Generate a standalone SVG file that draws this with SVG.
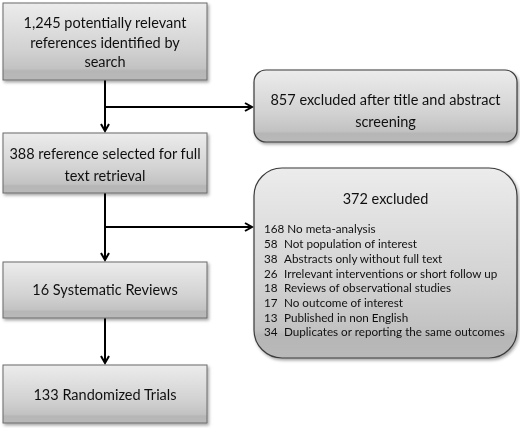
<svg xmlns="http://www.w3.org/2000/svg" width="520" height="428" viewBox="0 0 520 428">
<style>
.t{font-family:Lato,"Liberation Sans",sans-serif;font-size:14.5px;fill:#111;text-anchor:middle}
.l{font-family:Lato,"Liberation Sans",sans-serif;font-size:11.7px;fill:#111}
.h{font-family:Lato,"Liberation Sans",sans-serif;font-size:14.5px;fill:#111;text-anchor:middle}
.box{fill:url(#g);stroke:#6a6a6a;stroke-width:1}
.rbox{fill:url(#g);stroke:#3a3a3a;stroke-width:1.2}
.c{stroke:#000;stroke-width:2;fill:none}
</style>
<defs>
<linearGradient id="g" x1="0" y1="0" x2="0" y2="1">
<stop offset="0" stop-color="#ececec"/>
<stop offset="0.6" stop-color="#d2d2d2"/>
<stop offset="0.85" stop-color="#c2c2c2"/>
<stop offset="0.88" stop-color="#b6b6b6"/>
<stop offset="1" stop-color="#b9b9b9"/>
</linearGradient>
<filter id="sh" x="-5%" y="-5%" width="112%" height="115%">
<feDropShadow dx="1.5" dy="2" stdDeviation="1.5" flood-color="#000" flood-opacity="0.35"/>
</filter>
<marker id="ah" markerWidth="10" markerHeight="10" refX="8" refY="5" orient="auto" markerUnits="userSpaceOnUse">
<path d="M1,1 L8,5 L1,9" fill="none" stroke="#000" stroke-width="2"/>
</marker>
</defs>
<g id="connectors">
<line class="c" x1="105" y1="80" x2="105" y2="131" marker-end="url(#ah)"/>
<line class="c" x1="105" y1="107" x2="252" y2="107" marker-end="url(#ah)"/>
<line class="c" x1="105" y1="193" x2="105" y2="260" marker-end="url(#ah)"/>
<line class="c" x1="105" y1="227" x2="252" y2="227" marker-end="url(#ah)"/>
<line class="c" x1="105" y1="318" x2="105" y2="363" marker-end="url(#ah)"/>
</g>
<g id="n1" filter="url(#sh)">
<rect class="box" x="3" y="3" width="204" height="77"/>
<text class="t" x="105" y="28">1,245 potentially relevant</text>
<text class="t" x="105" y="48">references identified by</text>
<text class="t" x="105" y="67">search</text>
</g>
<g id="n2" filter="url(#sh)">
<rect class="rbox" x="254" y="70" width="263" height="72" rx="12"/>
<text class="t" x="385.5" y="105">857 excluded after title and abstract</text>
<text class="t" x="385.5" y="127">screening</text>
</g>
<g id="n3" filter="url(#sh)">
<rect class="box" x="3" y="133" width="204" height="60"/>
<text class="t" x="105" y="159">388 reference selected for full</text>
<text class="t" x="105" y="181">text retrieval</text>
</g>
<g id="n4" filter="url(#sh)">
<rect class="rbox" x="254" y="168" width="263" height="190" rx="28"/>
<text class="h" x="385.5" y="204">372 excluded</text>
<text class="l" x="264" y="233">168 No meta-analysis</text>
<text class="l" x="264" y="248">58</text><text class="l" x="284" y="248">Not population of interest</text>
<text class="l" x="264" y="263">38</text><text class="l" x="284" y="263">Abstracts only without full text</text>
<text class="l" x="264" y="278">26</text><text class="l" x="284" y="278">Irrelevant interventions or short follow up</text>
<text class="l" x="264" y="292">18</text><text class="l" x="284" y="292">Reviews of observational studies</text>
<text class="l" x="264" y="307">17</text><text class="l" x="284" y="307">No outcome of interest</text>
<text class="l" x="264" y="322">13</text><text class="l" x="284" y="322">Published in non English</text>
<text class="l" x="264" y="336">34</text><text class="l" x="284" y="336">Duplicates or reporting the same outcomes</text>
</g>
<g id="n5" filter="url(#sh)">
<rect class="box" x="3" y="262" width="204" height="56"/>
<text class="t" x="105" y="295">16 Systematic Reviews</text>
</g>
<g id="n6" filter="url(#sh)">
<rect class="box" x="3" y="365" width="204" height="58"/>
<text class="t" x="105" y="400">133 Randomized Trials</text>
</g>
</svg>
